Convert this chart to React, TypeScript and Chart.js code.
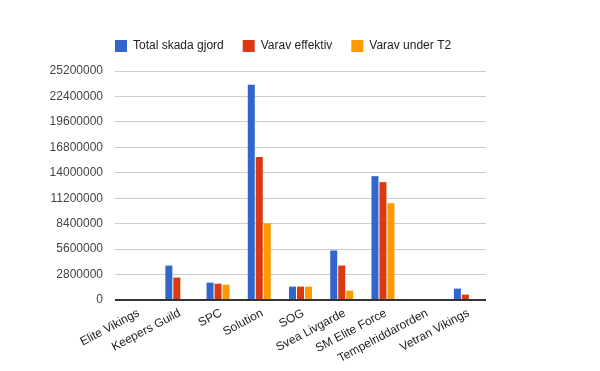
import React, { useEffect, useRef } from "react";
import { Chart, registerables } from "chart.js";

Chart.register(...registerables);

const categories = [
  "Elite Vikings",
  "Keepers Guild",
  "SPC",
  "Solution",
  "SOG",
  "Svea Livgarde",
  "SM Elite Force",
  "Tempelriddarorden",
  "Vetran Vikings",
];
const totalSkada = [0, 3790000, 1910000, 23690000, 1470000, 5450000, 13630000, 0, 1250000];
const varavEffektiv = [0, 2470000, 1800000, 15730000, 1470000, 3790000, 12970000, 0, 590000];
const varavUnderT2 = [0, 0, 1690000, 8430000, 1470000, 1030000, 10650000, 0, 0];
const seriesNames = ["Total skada gjord", "Varav effektiv", "Varav under T2"];
const yMax = 25200000;
const yStep = 2800000;

const FONT = "Arial, 'Liberation Sans', sans-serif";

const widenYAxis = {
  id: "widenYAxis",
  afterLayout(chart: any) {
    const y = chart.scales.y;
    if (y) {
      y.left = 0;
      y.width = y.right;
    }
  },
};

export default function App() {
  const ref = useRef<HTMLCanvasElement | null>(null);
  useEffect(() => {
    if (!ref.current) return;
    const chart = new Chart(ref.current, {
      type: "bar",
      data: {
        labels: categories,
        datasets: [
          { label: seriesNames[0], data: totalSkada, backgroundColor: "#3366cc" },
          { label: seriesNames[1], data: varavEffektiv, backgroundColor: "#dc3912" },
          { label: seriesNames[2], data: varavUnderT2, backgroundColor: "#ff9900" },
        ],
      },
      plugins: [widenYAxis],
      options: {
        responsive: false,
        animation: false,
        datasets: { bar: { categoryPercentage: 0.582, barPercentage: 0.875 } },
        layout: { padding: { left: 96, right: 114, top: 21, bottom: 5 } },
        plugins: {
          tooltip: { enabled: false },
          title: {
            display: true,
            text: " ",
            weight: 500,
            padding: 0,
            font: { size: 9, lineHeight: 1 },
          } as any,
          legend: {
            position: "top",
            align: "start",
            labels: {
              boxWidth: 12,
              boxHeight: 12,
              padding: 19,
              color: "#222",
              font: { family: FONT, size: 12 },
            },
          },
        },
        scales: {
          x: {
            grid: { display: false },
            border: { display: false },
            ticks: {
              autoSkip: false,
              minRotation: 28,
              maxRotation: 28,
              padding: -2,
              labelOffset: 3,
              color: "#222",
              font: { family: FONT, size: 12 },
            },
            afterFit: (s: any) => {
              s.height = 66;
            },
          },
          y: {
            min: 0,
            max: yMax,
            border: { display: false },
            grid: {
              drawTicks: false,
              color: (c: any) => (c.tick && c.tick.value === 0 ? "#333" : "#ccc"),
              lineWidth: (c: any) => (c.tick && c.tick.value === 0 ? 2 : 1),
            },
            ticks: {
              stepSize: yStep,
              padding: 12,
              color: "#444",
              font: { family: FONT, size: 12 },
              callback: (v: any) => String(v),
            },
            afterFit: (s: any) => {
              s.width = 19;
            },
          },
        },
      },
    });
    return () => chart.destroy();
  }, []);
  return (
    <div style={{ position: "fixed", left: 0, top: 0, width: 600, height: 371, background: "#fff" }}>
      <canvas ref={ref} width={600} height={371} />
    </div>
  );
}
